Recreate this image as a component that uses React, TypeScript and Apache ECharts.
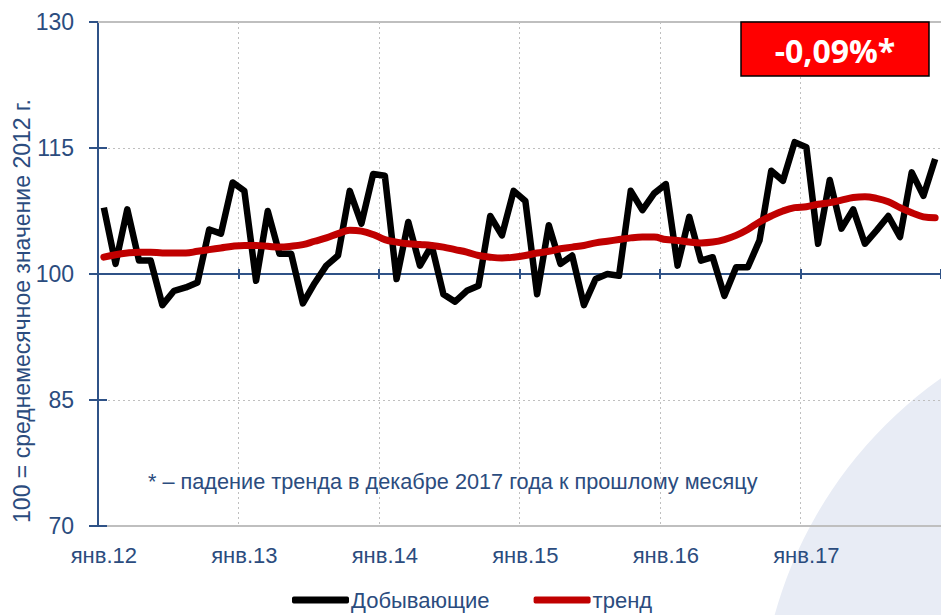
import React, { useEffect, useRef } from "react";
import * as echarts from "echarts";

const monthNames = ["янв", "фев", "мар", "апр", "май", "июн", "июл", "авг", "сен", "окт", "ноя", "дек"];
const years = ["12", "13", "14", "15", "16", "17"];
const categories: string[] = [];
years.forEach((y) => monthNames.forEach((m) => categories.push(m + "." + y)));

const yTicks = [70, 85, 100, 115, 130];

const miners = [
  107.9, 101.2, 107.7, 101.6, 101.6, 96.3, 98.0, 98.4, 99.0, 105.3, 104.8, 110.9,
  109.9, 99.2, 107.5, 102.4, 102.4, 96.5, 98.9, 101.0, 102.2, 109.9, 106.0, 111.9,
  111.7, 99.4, 106.2, 101.0, 103.4, 97.6, 96.7, 98.0, 98.6, 106.9, 104.6, 109.9,
  108.7, 97.6, 105.8, 101.2, 102.2, 96.3, 99.4, 100.0, 99.8, 109.9, 107.6, 109.6,
  110.7, 101.0, 106.8, 101.6, 102.0, 97.4, 100.8, 100.8, 104.0, 112.3, 111.1, 115.7,
  115.1, 103.6, 111.2, 105.4, 107.7, 103.6, 105.2, 106.9, 104.4, 112.1, 109.3, 113.7,
];

const trend = [
  102.0, 102.3, 102.5, 102.6, 102.6, 102.5, 102.5, 102.5, 102.7, 102.9, 103.1, 103.3,
  103.4, 103.4, 103.3, 103.2, 103.3, 103.5, 103.9, 104.3, 104.8, 105.2, 105.1, 104.7,
  104.1, 103.8, 103.6, 103.5, 103.4, 103.2, 102.9, 102.6, 102.2, 102.0, 101.9, 102.0,
  102.2, 102.5, 102.7, 103.0, 103.2, 103.4, 103.7, 103.9, 104.1, 104.3, 104.4, 104.4,
  104.1, 104.0, 103.8, 103.7, 103.8, 104.1, 104.6, 105.3, 106.2, 106.9, 107.5, 107.9,
  108.0, 108.3, 108.5, 108.8, 109.1, 109.2, 109.0, 108.6, 107.9, 107.3, 106.8, 106.7,
];

const seriesNames = ["Добывающие", "тренд"];
const badgeText = "-0,09%*";
const noteText = "* – падение тренда в декабре 2017 года к прошлому месяцу";
const yName = "100 = среднемесячное значение 2012 г.";

const BLUE_TEXT = "#2B4C7E";
const AXIS_BLUE = "#2F5287";
const GRAY = "#BFBFBF";
const FONT = "'Liberation Sans', Arial, sans-serif";

const GRID_LEFT = 98;
const GRID_TOP = 22;
const GRID_H = 504;
const GRID_W = 849;

export default function App() {
  const ref = useRef<HTMLDivElement>(null);
  useEffect(() => {
    document.body.style.margin = "0";
    const chart = echarts.init(ref.current!, null, { renderer: "svg" });
    const yearInterval = (i: number) => i % 12 === 0;
    const common = {
      type: "category",
      data: categories,
      boundaryGap: true,
      gridIndex: 0,
    };
    const yCommon = { type: "value", min: 70, max: 130, interval: 15, gridIndex: 0 };
    chart.setOption({
      animation: false,
      backgroundColor: "#ffffff",
      grid: { left: GRID_LEFT, top: GRID_TOP, width: GRID_W, height: GRID_H },
      xAxis: [
        {
          ...common,
          position: "bottom",
          axisLine: { show: true, lineStyle: { color: GRAY, width: 2 } },
          axisTick: { show: false },
          axisLabel: {
            interval: 11,
            margin: 18,
            color: BLUE_TEXT,
            fontSize: 22,
            fontFamily: FONT,
          },
          splitLine: {
            show: true,
            interval: (i: number) => i % 12 === 0 && i > 0,
            lineStyle: { color: GRAY, type: [2, 3], width: 1 },
          },
        },
        {
          ...common,
          position: "bottom",
          offset: -GRID_H / 2,
          axisLine: { show: true, lineStyle: { color: AXIS_BLUE, width: 2 } },
          axisTick: { show: true, interval: yearInterval, length: 5, inside: false, lineStyle: { color: AXIS_BLUE, width: 2 } },
          axisLabel: { show: false },
          splitLine: { show: false },
        },
        {
          ...common,
          position: "bottom",
          offset: -GRID_H / 2,
          axisLine: { show: false },
          axisTick: { show: true, interval: yearInterval, length: 5, inside: true, lineStyle: { color: AXIS_BLUE, width: 2 } },
          axisLabel: { show: false },
          splitLine: { show: false },
        },
      ],
      yAxis: [
        {
          ...yCommon,
          axisLine: { show: true, lineStyle: { color: AXIS_BLUE, width: 2 } },
          axisTick: { show: true, length: 9, inside: false, lineStyle: { color: AXIS_BLUE, width: 2 } },
          axisLabel: {
            color: BLUE_TEXT,
            fontSize: 23,
            fontFamily: FONT,
            margin: 24,
            formatter: (v: number) => (yTicks.includes(v) ? String(v) : ""),
          },
          splitLine: { show: true, lineStyle: { color: GRAY, type: [2, 3], width: 1 } },
        },
        {
          ...yCommon,
          position: "left",
          axisLine: { show: false },
          axisTick: { show: true, length: 9, inside: true, lineStyle: { color: AXIS_BLUE, width: 2 } },
          axisLabel: { show: false },
          splitLine: { show: false },
        },
      ],
      legend: {
        data: seriesNames,
        left: 287,
        top: 584,
        itemWidth: 57,
        itemHeight: 7,
        itemGap: 44,
        icon: "roundRect",
        textStyle: { color: BLUE_TEXT, fontSize: 22, fontFamily: FONT, padding: [0, 0, 0, -3] },
      },
      series: [
        {
          name: seriesNames[0],
          type: "line",
          data: miners,
          symbol: "none",
          z: 3,
          lineStyle: { color: "#000000", width: 6.5, join: "round" },
          itemStyle: { color: "#000000" },
          markLine: {
            silent: true,
            symbol: "none",
            label: { show: false },
            lineStyle: { color: GRAY, width: 2, type: "solid" },
            data: [{ yAxis: 130 }],
          },
        },
        {
          name: seriesNames[1],
          type: "line",
          data: trend,
          symbol: "none",
          smooth: 0.4,
          z: 4,
          lineStyle: { color: "#C00000", width: 7, cap: "round" },
          itemStyle: { color: "#C00000" },
        },
      ],
      graphic: [
        {
          type: "circle",
          z: -10,
          silent: true,
          shape: { cx: 1190, cy: 730, r: 431 },
          style: { fill: "#E8ECF5" },
        },
        {
          type: "rect",
          z: 10,
          shape: { x: 741, y: 22, width: 188, height: 54 },
          style: { fill: "#FF0000", stroke: "#000000", lineWidth: 1.5 },
        },
        {
          type: "text",
          z: 11,
          x: 835,
          y: 50,
          style: {
            text: badgeText,
            fill: "#ffffff",
            font: "bold 32px 'Open Sans', sans-serif",
            align: "center",
            verticalAlign: "middle",
          },
        },
        {
          type: "text",
          z: 10,
          x: 148,
          y: 481,
          style: {
            text: noteText,
            fill: BLUE_TEXT,
            font: "21.7px " + FONT,
            align: "left",
            verticalAlign: "middle",
          },
        },
        {
          type: "text",
          z: 10,
          x: 22,
          y: 311,
          rotation: Math.PI / 2,
          style: {
            text: yName,
            fill: BLUE_TEXT,
            font: "23px " + FONT,
            align: "center",
            verticalAlign: "middle",
          },
        },
      ],
    });
    return () => chart.dispose();
  }, []);
  return <div ref={ref} style={{ width: 941, height: 615 }} />;
}
